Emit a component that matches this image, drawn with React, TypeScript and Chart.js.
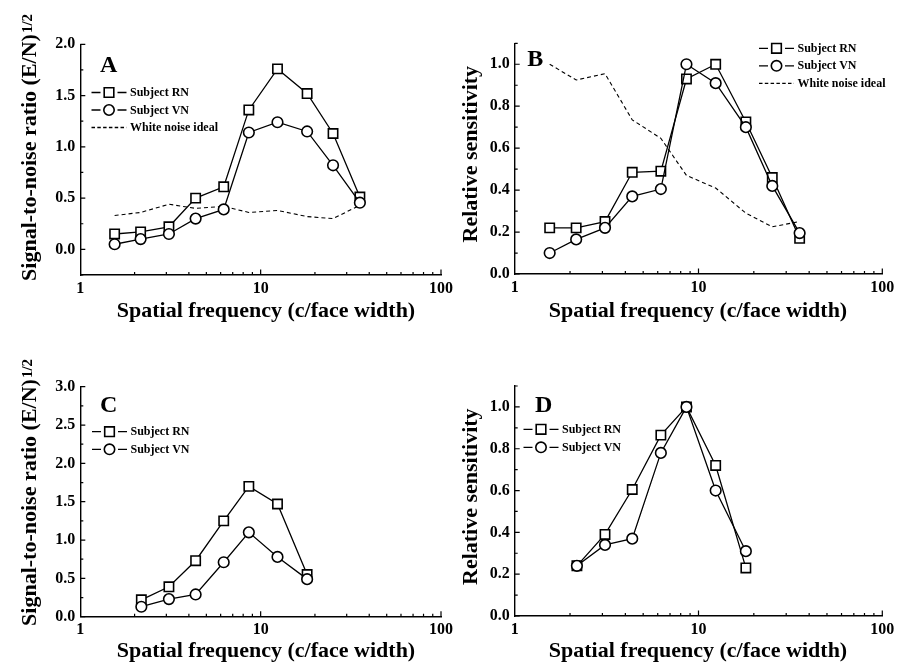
import React, { useEffect, useRef } from "react";
import { Chart, registerables } from "chart.js";

Chart.register(...registerables);

const FONT_FAMILY = "'Liberation Serif', 'Times New Roman', Times, serif";

// ---------------- data ----------------
const freqAB = [1.55, 2.16, 3.1, 4.36, 6.24, 8.6, 12.4, 18.1, 25.2, 35.5];
const freqCD = [2.18, 3.1, 4.36, 6.24, 8.6, 12.4, 18.1];

const snrRN_A = [0.15, 0.17, 0.22, 0.5, 0.61, 1.36, 1.76, 1.52, 1.13, 0.51];
const snrVN_A = [0.05, 0.1, 0.15, 0.3, 0.39, 1.14, 1.24, 1.15, 0.82, 0.455];
const snrIdeal_A = [0.33, 0.36, 0.44, 0.4, 0.42, 0.36, 0.38, 0.32, 0.3, 0.43];

const relRN_B = [0.22, 0.22, 0.25, 0.485, 0.49, 0.93, 1.0, 0.725, 0.46, 0.17];
const relVN_B = [0.1, 0.165, 0.22, 0.37, 0.405, 1.0, 0.91, 0.7, 0.42, 0.195];
const relIdeal_B = [1.0, 0.925, 0.955, 0.735, 0.647, 0.47, 0.41, 0.29, 0.225, 0.25];

const snrRN_C = [0.22, 0.39, 0.73, 1.25, 1.7, 1.47, 0.55];
const snrVN_C = [0.13, 0.23, 0.29, 0.71, 1.1, 0.78, 0.49];

const relRN_D = [0.24, 0.39, 0.605, 0.865, 1.0, 0.72, 0.23];
const relVN_D = [0.24, 0.34, 0.37, 0.78, 1.0, 0.6, 0.31];

const xTickValues = [1, 10, 100];
const snrTicksA = [0, 0.5, 1.0, 1.5, 2.0];
const snrTicksC = [0, 0.5, 1.0, 1.5, 2.0, 2.5, 3.0];
const relTicks = [0, 0.2, 0.4, 0.6, 0.8, 1.0];

const seriesNames = ["Subject RN", "Subject VN", "White noise ideal"];
const panelLetters = ["A", "B", "C", "D"];
const xTitleText = "Spatial frequency (c/face width)";
const snrTitleText = "Signal-to-noise ratio (E/N)";
const snrTitleSup = "1/2";
const relTitleText = "Relative sensitivity";

// ---------------- panel layout ----------------
type Kind = "square" | "circle" | "dash";
interface Series { name: string; kind: Kind; values: number[] }
interface Rect { left: number; top: number; width: number; height: number }
interface Area { left: number; top: number; right: number; bottom: number }
interface Panel {
  letter: string;
  box: Rect;
  area: Area;
  freqs: number[];
  series: Series[];
  yMin: number;
  yMax: number;
  yTicks: number[];
  yMinor: number;
  yTitle: string;
  ySup?: string;
  yTitlePos: { x: number; y: number };
  xTitlePos: { x: number; y: number };
  letterPos: { x: number; y: number };
  legendPos: { x: number; y: number; dy: number };
}

const panels: Panel[] = [
  {
    letter: panelLetters[0],
    box: { left: 0, top: 0, width: 458, height: 325 },
    area: { left: 80.3, top: 44.3, right: 441, bottom: 275 },
    freqs: freqAB,
    series: [
      { name: seriesNames[0], kind: "square", values: snrRN_A },
      { name: seriesNames[1], kind: "circle", values: snrVN_A },
      { name: seriesNames[2], kind: "dash", values: snrIdeal_A },
    ],
    yMin: -0.25, yMax: 2.0, yTicks: snrTicksA, yMinor: 0.25,
    yTitle: snrTitleText, ySup: snrTitleSup,
    yTitlePos: { x: 35.5, y: 157.5 },
    xTitlePos: { x: 266, y: 317 },
    letterPos: { x: 100, y: 71.7 },
    legendPos: { x: 91.5, y: 92.5, dy: 17.5 },
  },
  {
    letter: panelLetters[1],
    box: { left: 448, top: 0, width: 449, height: 325 },
    area: { left: 514.7, top: 43.3, right: 882.3, bottom: 274 },
    freqs: freqAB,
    series: [
      { name: seriesNames[0], kind: "square", values: relRN_B },
      { name: seriesNames[1], kind: "circle", values: relVN_B },
      { name: seriesNames[2], kind: "dash", values: relIdeal_B },
    ],
    yMin: 0, yMax: 1.1, yTicks: relTicks, yMinor: 0.1,
    yTitle: relTitleText,
    yTitlePos: { x: 476.5, y: 154.2 },
    xTitlePos: { x: 698, y: 317 },
    letterPos: { x: 527.3, y: 65.7 },
    legendPos: { x: 759, y: 48.3, dy: 17.5 },
  },
  {
    letter: panelLetters[2],
    box: { left: 0, top: 332, width: 458, height: 332 },
    area: { left: 80.3, top: 386.7, right: 441, bottom: 616.7 },
    freqs: freqCD,
    series: [
      { name: seriesNames[0], kind: "square", values: snrRN_C },
      { name: seriesNames[1], kind: "circle", values: snrVN_C },
    ],
    yMin: 0, yMax: 3.0, yTicks: snrTicksC, yMinor: 0.25,
    yTitle: snrTitleText, ySup: snrTitleSup,
    yTitlePos: { x: 35.5, y: 502.5 },
    xTitlePos: { x: 266, y: 656.5 },
    letterPos: { x: 100, y: 412 },
    legendPos: { x: 92, y: 431.7, dy: 17.6 },
  },
  {
    letter: panelLetters[3],
    box: { left: 448, top: 332, width: 449, height: 332 },
    area: { left: 514.7, top: 386, right: 882.3, bottom: 616 },
    freqs: freqCD,
    series: [
      { name: seriesNames[0], kind: "square", values: relRN_D },
      { name: seriesNames[1], kind: "circle", values: relVN_D },
    ],
    yMin: 0, yMax: 1.1, yTicks: relTicks, yMinor: 0.1,
    yTitle: relTitleText,
    yTitlePos: { x: 476.5, y: 496.7 },
    xTitlePos: { x: 698, y: 657 },
    letterPos: { x: 535, y: 411.7 },
    legendPos: { x: 523.5, y: 429.3, dy: 18 },
  },
];

const BLACK = "#000";

function datasetFor(p: Panel, s: Series) {
  const data = p.freqs.map((f, i) => ({ x: f, y: s.values[i] }));
  const base: any = {
    label: s.name,
    data,
    borderColor: BLACK,
    backgroundColor: BLACK,
    showLine: true,
    tension: 0,
    fill: false,
  };
  if (s.kind === "dash") {
    return { ...base, borderWidth: 1.1, borderDash: [4, 3], pointRadius: 0, order: 3 };
  }
  return {
    ...base,
    borderWidth: 1.3,
    pointStyle: s.kind === "square" ? "rect" : "circle",
    pointRadius: s.kind === "square" ? 6.6 : 5.3,
    pointBorderWidth: 1.6,
    pointBorderColor: BLACK,
    pointBackgroundColor: "#fff",
    order: s.kind === "square" ? 2 : 1,
  };
}

function decorPlugin(p: Panel) {
  return {
    id: "paperDecor",
    afterDraw(chart: any) {
      const ctx: CanvasRenderingContext2D = chart.ctx;
      const { left, bottom } = chart.chartArea;
      const xs = chart.scales.x;
      const ys = chart.scales.y;
      const ox = p.box.left;
      const oy = p.box.top;
      ctx.save();
      // inward tick marks
      ctx.strokeStyle = BLACK;
      ctx.lineWidth = 1.2;
      ctx.beginPath();
      const n0 = Math.ceil(p.yMin / p.yMinor - 1e-6);
      const n1 = Math.floor(p.yMax / p.yMinor + 1e-6);
      for (let i = n0; i <= n1; i++) {
        const v = i * p.yMinor;
        const isMajor = p.yTicks.some((t) => Math.abs(t - v) < 1e-6);
        const y = ys.getPixelForValue(v);
        ctx.moveTo(left, y);
        ctx.lineTo(left + (isMajor ? 5 : 3), y);
      }
      for (const d of [1, 10]) {
        for (let k = 2; k <= 9; k++) {
          const x = xs.getPixelForValue(k * d);
          ctx.moveTo(x, bottom);
          ctx.lineTo(x, bottom - 3);
        }
      }
      for (const v of xTickValues.slice(1)) {
        const x = xs.getPixelForValue(v);
        ctx.moveTo(x, bottom);
        ctx.lineTo(x, bottom - 5.5);
      }
      ctx.stroke();

      ctx.fillStyle = BLACK;
      // x title
      ctx.font = `bold 22px ${FONT_FAMILY}`;
      ctx.textAlign = "center";
      ctx.textBaseline = "alphabetic";
      ctx.fillText(xTitleText, p.xTitlePos.x - ox, p.xTitlePos.y - oy);

      // y title (rotated), with optional superscript
      ctx.save();
      ctx.translate(p.yTitlePos.x - ox, p.yTitlePos.y - oy);
      ctx.rotate(-Math.PI / 2);
      ctx.font = `bold 22px ${FONT_FAMILY}`;
      ctx.textAlign = "center";
      ctx.fillText(p.yTitle, 0, 0);
      if (p.ySup) {
        const w = ctx.measureText(p.yTitle).width;
        ctx.font = `bold 15px ${FONT_FAMILY}`;
        ctx.textAlign = "left";
        ctx.fillText(p.ySup, w / 2 + 1, -4);
      }
      ctx.restore();

      // panel letter
      ctx.font = `bold 24px ${FONT_FAMILY}`;
      ctx.textAlign = "left";
      ctx.textBaseline = "alphabetic";
      ctx.fillText(p.letter, p.letterPos.x - ox, p.letterPos.y - oy);

      // legend
      const lx = p.legendPos.x - ox;
      ctx.font = `bold 12px ${FONT_FAMILY}`;
      ctx.textBaseline = "middle";
      p.series.forEach((s, i) => {
        const y = p.legendPos.y - oy + i * p.legendPos.dy;
        ctx.strokeStyle = BLACK;
        ctx.lineWidth = 1.3;
        if (s.kind === "dash") {
          ctx.setLineDash([3.5, 2.3]);
          ctx.beginPath();
          ctx.moveTo(lx, y);
          ctx.lineTo(lx + 35, y);
          ctx.stroke();
          ctx.setLineDash([]);
        } else {
          ctx.beginPath();
          ctx.moveTo(lx, y);
          ctx.lineTo(lx + 9, y);
          ctx.moveTo(lx + 26, y);
          ctx.lineTo(lx + 35, y);
          ctx.stroke();
          ctx.lineWidth = 1.6;
          ctx.beginPath();
          const cx = lx + 17.5;
          if (s.kind === "square") {
            ctx.rect(cx - 4.8, y - 4.8, 9.6, 9.6);
          } else {
            ctx.arc(cx, y, 5.2, 0, Math.PI * 2);
          }
          ctx.fillStyle = "#fff";
          ctx.fill();
          ctx.stroke();
          ctx.fillStyle = BLACK;
        }
        ctx.fillText(s.name, lx + 38.5, y + 0.5);
      });
      ctx.restore();
    },
  };
}

function PanelChart({ p }: { p: Panel }) {
  const ref = useRef<HTMLCanvasElement | null>(null);
  useEffect(() => {
    const canvas = ref.current;
    if (!canvas) return;
    const tickFont = { family: FONT_FAMILY, size: 16, weight: "bold" as const };
    const chart = new Chart(canvas, {
      type: "line",
      data: { datasets: p.series.map((s) => datasetFor(p, s)) },
      options: {
        responsive: false,
        animation: false,
        devicePixelRatio: 1,
        layout: {
          padding: {
            left: 0,
            top: p.area.top - p.box.top,
            right: p.box.left + p.box.width - p.area.right,
            bottom: 0,
          },
        },
        plugins: { legend: { display: false }, tooltip: { enabled: false } },
        scales: {
          x: {
            type: "logarithmic",
            position: "bottom",
            min: 1,
            max: 100,
            afterBuildTicks: (s: any) => {
              s.ticks = xTickValues.map((v) => ({ value: v }));
            },
            afterFit: (s: any) => {
              s.height = p.box.top + p.box.height - p.area.bottom;
              s.paddingLeft = 0;
              s.paddingRight = 0;
            },
            ticks: {
              autoSkip: false,
              maxRotation: 0,
              padding: 4,
              color: BLACK,
              font: tickFont,
              callback: (v: any) => String(v),
            },
            grid: { display: true, drawOnChartArea: false, drawTicks: false },
            border: { display: true, color: BLACK, width: 1.4 },
            title: { display: false },
          },
          y: {
            type: "linear",
            position: "left",
            min: p.yMin,
            max: p.yMax,
            afterBuildTicks: (s: any) => {
              s.ticks = p.yTicks.map((v) => ({ value: v }));
            },
            afterFit: (s: any) => {
              s.width = p.area.left - p.box.left;
              s.paddingTop = 0;
              s.paddingBottom = 0;
            },
            ticks: {
              padding: 5,
              color: BLACK,
              font: tickFont,
              callback: (v: any) => Number(v).toFixed(1),
            },
            grid: { display: true, drawOnChartArea: false, drawTicks: false },
            border: { display: true, color: BLACK, width: 1.4 },
            title: { display: false },
          },
        },
      } as any,
      plugins: [decorPlugin(p)],
    });
    return () => chart.destroy();
  }, [p]);
  return (
    <canvas
      ref={ref}
      width={p.box.width}
      height={p.box.height}
      style={{
        position: "absolute",
        left: p.box.left,
        top: p.box.top,
        width: p.box.width,
        height: p.box.height,
        display: "block",
      }}
    />
  );
}

export default function App() {
  return (
    <div
      style={{
        position: "fixed",
        left: 0,
        top: 0,
        width: 897,
        height: 664,
        background: "#fff",
        overflow: "hidden",
      }}
    >
      {panels.map((p) => (
        <PanelChart key={p.letter} p={p} />
      ))}
    </div>
  );
}
